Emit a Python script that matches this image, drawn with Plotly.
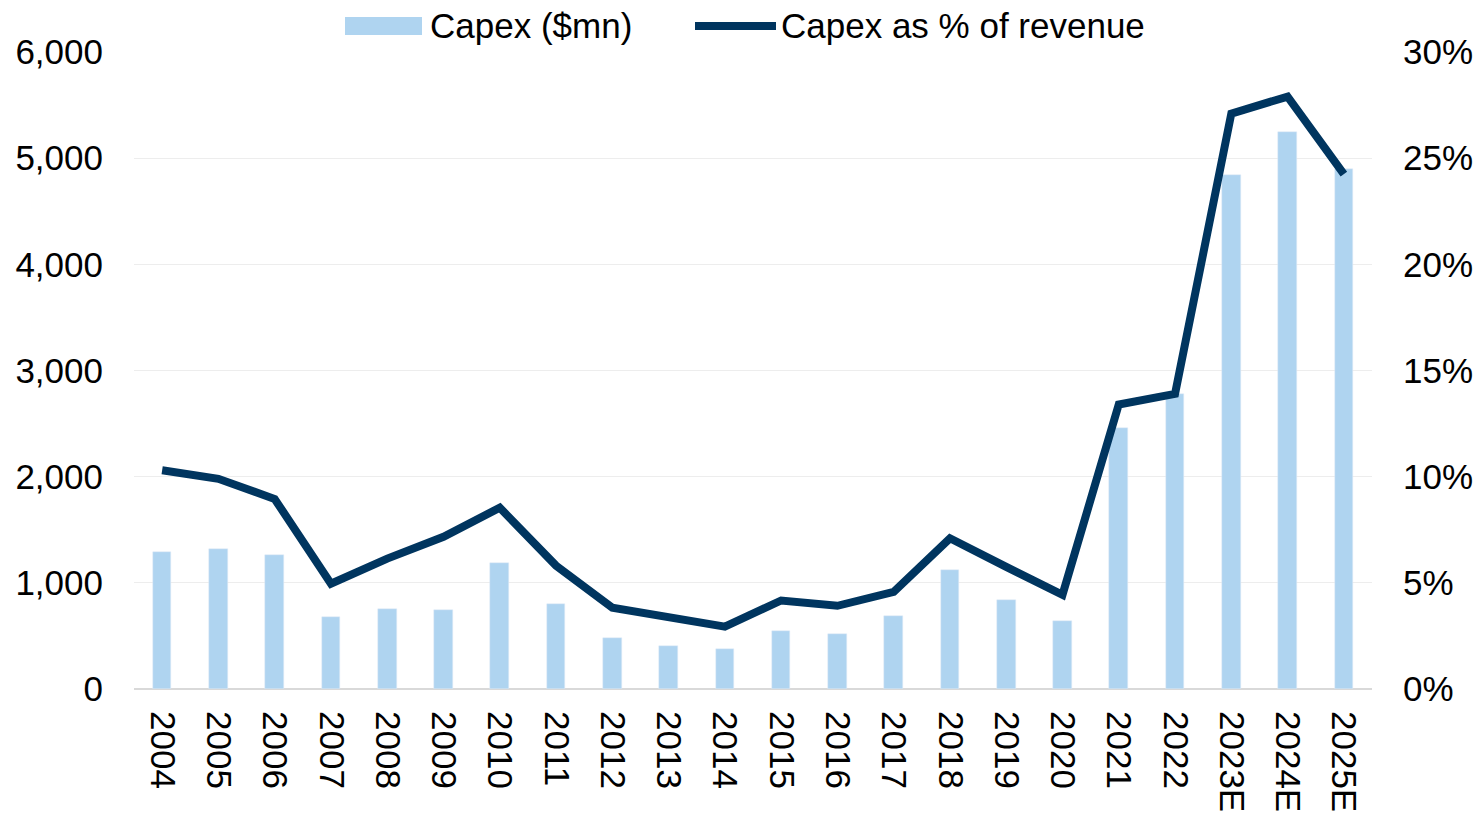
import plotly.graph_objects as go

years = ["2004", "2005", "2006", "2007", "2008", "2009", "2010", "2011", "2012", "2013",
         "2014", "2015", "2016", "2017", "2018", "2019", "2020", "2021", "2022",
         "2023E", "2024E", "2025E"]
capex = [1290, 1320, 1265, 680, 755, 742, 1190, 805, 485, 404,
         375, 542, 517, 683, 1122, 838, 640, 2455, 2780, 4843, 5243, 4896]
capex_pct = [10.3, 9.9, 8.95, 4.96, 6.14, 7.17, 8.54, 5.81, 3.83, 3.42,
             2.94, 4.17, 3.92, 4.57, 7.1, 5.75, 4.44, 13.4, 13.9, 27.1, 27.9, 24.25]

y_ticks = [0, 1000, 2000, 3000, 4000, 5000, 6000]
y2_ticks = [0, 5, 10, 15, 20, 25, 30]
y2_labels = ["0%", "5%", "10%", "15%", "20%", "25%", "30%"]

BAR_COLOR = "#AFD4F0"
LINE_COLOR = "#00355F"
FONT = "Liberation Sans, Arial, sans-serif"
FS = 35

fig = go.Figure()
fig.add_trace(go.Bar(x=years, y=capex, name="Capex ($mn)", marker_color=BAR_COLOR,
                     width=0.33, showlegend=False))
fig.add_trace(go.Scatter(x=years, y=capex_pct, name="Capex as % of revenue", yaxis="y2",
                         mode="lines", line=dict(color=LINE_COLOR, width=8),
                         showlegend=False))

W, H = 1481, 814
ml, mr, mt, mb = 134, 109, 52, 125
pw, ph = W - ml - mr, H - mt - mb

def px(x):
    return (x - ml) / pw

def py(y):
    return (H - mb - y) / ph

shapes = [
    dict(type="rect", xref="paper", yref="paper", x0=px(345), x1=px(422), y0=py(35), y1=py(17),
         fillcolor=BAR_COLOR, line=dict(width=0)),
    dict(type="line", xref="paper", yref="paper", x0=px(695), x1=px(776), y0=py(26), y1=py(26),
         line=dict(color=LINE_COLOR, width=8)),
]
annotations = [
    dict(text="Capex ($mn)", xref="paper", yref="paper", x=px(428), y=py(26), xanchor="left",
         yanchor="middle", showarrow=False, font=dict(family=FONT, size=FS, color="#000000")),
    dict(text="Capex as % of revenue", xref="paper", yref="paper", x=px(779), y=py(26),
         xanchor="left", yanchor="middle", showarrow=False,
         font=dict(family=FONT, size=FS, color="#000000")),
]

fig.update_layout(
    width=W, height=H,
    margin=dict(l=ml, r=mr, t=mt, b=mb, pad=0),
    paper_bgcolor="white", plot_bgcolor="white",
    font=dict(family=FONT, size=FS, color="#000000"),
    shapes=shapes, annotations=annotations,
    bargap=0.0,
    xaxis=dict(type="category", tickangle=90, showgrid=False, ticks="outside", ticklen=0,
               ticklabelstandoff=14, showline=False, zeroline=False, automargin=False,
               range=[-0.5, len(years) - 0.5]),
    yaxis=dict(range=[0, 6000], tickvals=y_ticks, tickformat=",", showgrid=True,
               gridcolor="#EDEDED", gridwidth=1, zeroline=True, zerolinecolor="#D9D9D9",
               zerolinewidth=2, ticks="outside", ticklen=0, ticklabelstandoff=23,
               showline=False, automargin=False),
    yaxis2=dict(range=[0, 30], tickvals=y2_ticks, ticktext=y2_labels, overlaying="y",
                side="right", showgrid=False, zeroline=False, ticks="outside", ticklen=0,
                ticklabelstandoff=23, showline=False, automargin=False),
)

fig.write_html("out.html")
